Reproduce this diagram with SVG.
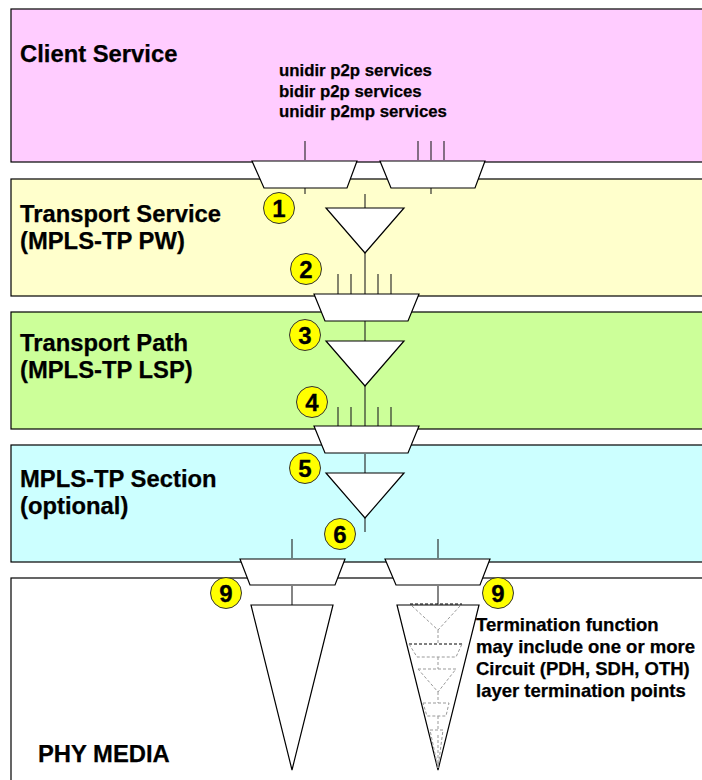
<svg xmlns="http://www.w3.org/2000/svg" width="702" height="780" viewBox="0 0 702 780">
<style>
.band{stroke:#000;stroke-width:1.2}
.sh{fill:#fff;stroke:#000;stroke-width:1.2;stroke-linejoin:miter}
.ln{fill:none;stroke:#222;stroke-width:1.1}
.dg{fill:none;stroke:#999;stroke-width:1;stroke-dasharray:3 2}
.dk{fill:none;stroke:#000;stroke-width:1;stroke-dasharray:3 2}
.t{font-family:"Liberation Sans",Arial,sans-serif;font-weight:bold;fill:#000;stroke:#000;stroke-width:.25}
.h{font-size:23.8px}
.s{font-size:18.5px}
.m{font-size:16.8px}
.bc{fill:#ffff00;stroke:#333;stroke-width:1}
.n{font-family:"Liberation Sans",Arial,sans-serif;font-weight:bold;font-size:24px;text-anchor:middle;fill:#000;stroke:#000;stroke-width:.3}
</style>
<rect width="702" height="780" fill="#fff"/>
<g id="band-client"><rect class="band" x="11" y="9" width="692" height="153" fill="#ffccff"/><text class="t h" x="20" y="62">Client Service</text>
<text class="t m" x="279" y="76">unidir p2p services</text><text class="t m" x="279" y="97">bidir p2p services</text><text class="t m" x="279" y="117">unidir p2mp services</text></g>
<g id="band-transport-service"><rect class="band" x="11" y="179" width="692" height="117" fill="#ffffcc"/><text class="t h" x="20" y="222">Transport Service</text><text class="t h" x="20" y="249">(MPLS-TP PW)</text></g>
<g id="band-transport-path"><rect class="band" x="11" y="312" width="692" height="117" fill="#ccff99"/><text class="t h" x="20" y="351">Transport Path</text><text class="t h" x="20" y="378">(MPLS-TP LSP)</text></g>
<g id="band-section"><rect class="band" x="11" y="445" width="692" height="117" fill="#ccffff"/><text class="t h" x="20" y="487">MPLS-TP Section</text><text class="t h" x="20" y="514">(optional)</text></g>
<g id="band-phy"><rect class="band" x="11" y="578" width="692" height="203" fill="#fff"/><text class="t h" x="38" y="762">PHY MEDIA</text></g>
<g id="connectors">
<path class="ln" d="M305 141V160M305 188V194M418 141V160M431 141V160M444 141V160M431 188V194"/>
<path class="ln" d="M365 194V208M365 253V294"/>
<path class="ln" d="M338 274V294M351 274V294M378 274V294M391 274V294"/>
<path class="ln" d="M365 321V341M365 386V426"/>
<path class="ln" d="M338 407V426M351 407V426M378 407V426M391 407V426"/>
<path class="ln" d="M365 454V473M365 518V532"/>
<path class="ln" d="M292 539V558M292 586V605M438 539V558M438 586V604"/>
</g>
<g id="mux-1"><polygon class="sh" points="252,161 357,161 347,188 264,188"/></g>
<g id="mux-2"><polygon class="sh" points="380,161 485,161 475,188 391,188"/></g>
<g id="tri-1"><polygon class="sh" points="326,208 404,208 365,253"/></g>
<g id="mux-3"><polygon class="sh" points="314,294 419,294 408,321 325,321"/></g>
<g id="tri-2"><polygon class="sh" points="326,341 404,341 365,386"/></g>
<g id="mux-4"><polygon class="sh" points="314,426 419,426 408,453 325,453"/></g>
<g id="tri-3"><polygon class="sh" points="326,473 404,473 365,518"/></g>
<g id="mux-5"><polygon class="sh" points="240,559 345,559 335,585 250,585"/></g>
<g id="mux-6"><polygon class="sh" points="385,559 490,559 480,585 396,585"/></g>
<g id="term-1"><polygon class="sh" points="251,605 333,605 292,770"/></g>
<g id="term-2"><polygon class="sh" points="397,605 479,605 438,770"/>
<path class="dk" d="M410 604H462"/>
<path class="dg" d="M412 606L438 630L460 606M438 630V644"/>
<path class="dk" d="M409 644H462"/><path class="dg" d="M409 644L417 657H456L462 644M438 657V669"/>
<path class="dg" d="M418 669H456L438 692L418 669M438 692V703"/>
<path class="dg" d="M423 703H449L446 716H427ZM438 716V730"/>
<path class="dg" d="M430 730H443L438 768ZM438 735V768"/>
</g>
<g id="note"><text class="t s" x="476" y="631">Termination function</text><text class="t s" x="476" y="653">may include one or more</text><text class="t s" x="476" y="675">Circuit (PDH, SDH, OTH)</text><text class="t s" x="476" y="697">layer termination points</text></g>
<g id="badge-1"><circle class="bc" cx="279" cy="208" r="15.5"/><text class="n" x="279" y="217">1</text></g>
<g id="badge-2"><circle class="bc" cx="306" cy="269" r="15.5"/><text class="n" x="306" y="278">2</text></g>
<g id="badge-3"><circle class="bc" cx="305" cy="335" r="15.5"/><text class="n" x="305" y="344">3</text></g>
<g id="badge-4"><circle class="bc" cx="312" cy="402" r="15.5"/><text class="n" x="312" y="411">4</text></g>
<g id="badge-5"><circle class="bc" cx="305" cy="468" r="15.5"/><text class="n" x="305" y="477">5</text></g>
<g id="badge-6"><circle class="bc" cx="340" cy="534" r="15.5"/><text class="n" x="340" y="543">6</text></g>
<g id="badge-9a"><circle class="bc" cx="226" cy="593" r="15.5"/><text class="n" x="226" y="602">9</text></g>
<g id="badge-9b"><circle class="bc" cx="498" cy="593" r="15.5"/><text class="n" x="498" y="602">9</text></g>
</svg>
